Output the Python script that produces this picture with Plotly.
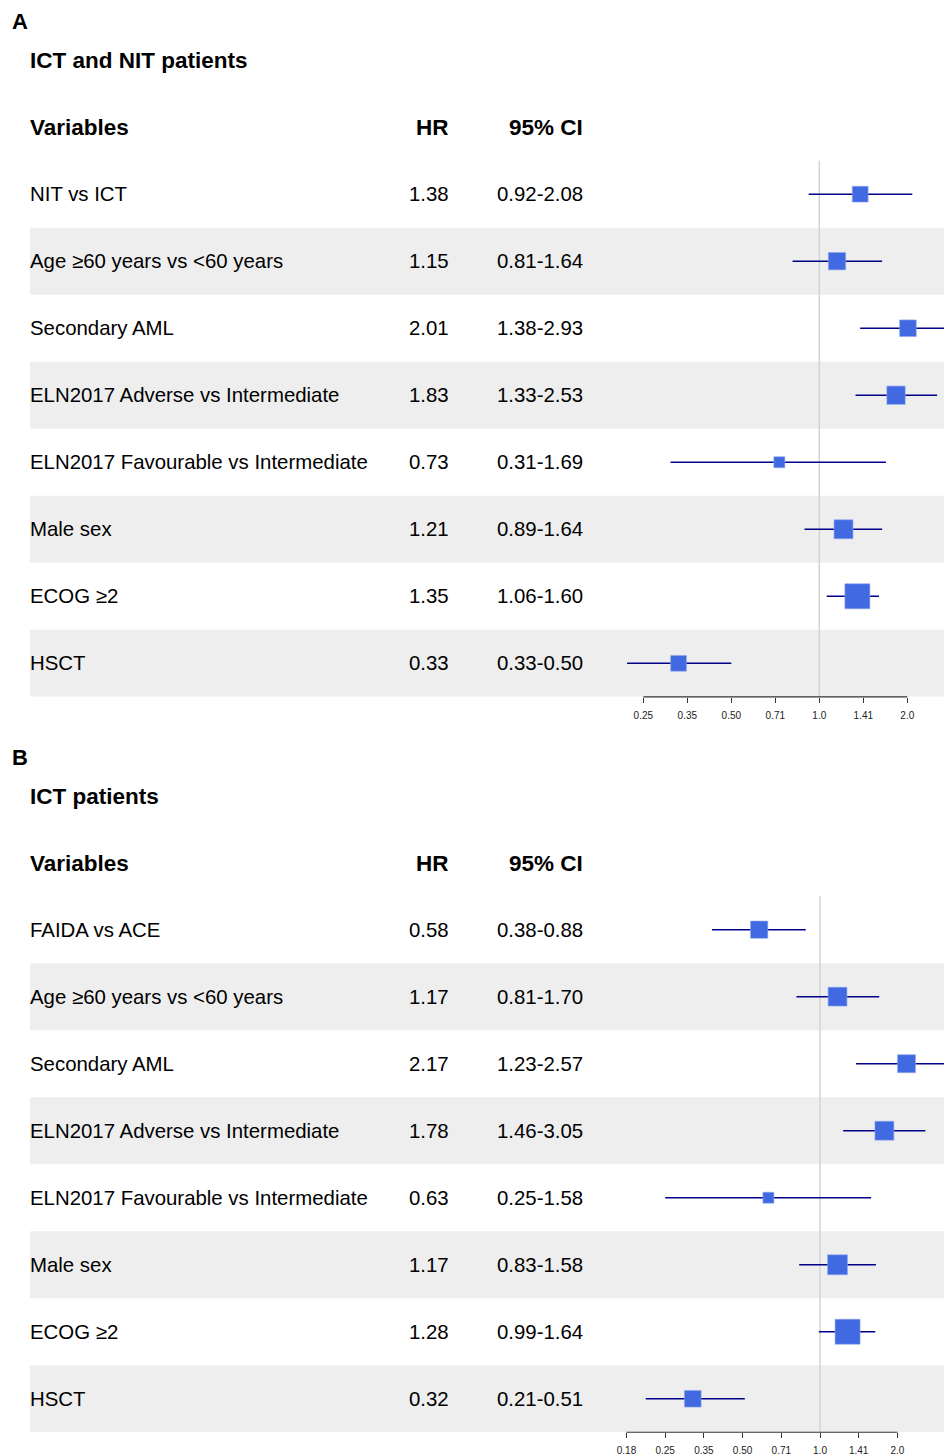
import math
import plotly.graph_objects as go

W, H = 944, 1456
FONT = "Liberation Sans, Arial, Helvetica, sans-serif"

# ---------------- data ----------------
title_a = "ICT and NIT patients"
var_a = ["NIT vs ICT", "Age ≥60 years vs &lt;60 years", "Secondary AML",
         "ELN2017 Adverse vs Intermediate", "ELN2017 Favourable vs Intermediate",
         "Male sex", "ECOG ≥2", "HSCT"]
hr_a = [1.38, 1.15, 2.01, 1.83, 0.73, 1.21, 1.35, 0.33]
lo_a = [0.92, 0.81, 1.38, 1.33, 0.31, 0.89, 1.06, 0.22]
hi_a = [2.08, 1.64, 2.93, 2.53, 1.69, 1.64, 1.60, 0.50]
ci_a = ["0.92-2.08", "0.81-1.64", "1.38-2.93", "1.33-2.53", "0.31-1.69",
        "0.89-1.64", "1.06-1.60", "0.33-0.50"]
tickvals_a = [0.25, 0.3536, 0.5, 0.7071, 1.0, 1.4142, 2.0]
ticktext_a = ["0.25", "0.35", "0.50", "0.71", "1.0", "1.41", "2.0"]

title_b = "ICT patients"
var_b = ["FAIDA vs ACE", "Age ≥60 years vs &lt;60 years", "Secondary AML",
         "ELN2017 Adverse vs Intermediate", "ELN2017 Favourable vs Intermediate",
         "Male sex", "ECOG ≥2", "HSCT"]
hr_b = [0.58, 1.17, 2.17, 1.78, 0.63, 1.17, 1.28, 0.32]
lo_b = [0.38, 0.81, 1.38, 1.23, 0.25, 0.83, 0.99, 0.21]
hi_b = [0.88, 1.70, 3.05, 2.57, 1.58, 1.65, 1.64, 0.51]
ci_b = ["0.38-0.88", "0.81-1.70", "1.23-2.57", "1.46-3.05", "0.25-1.58",
        "0.83-1.58", "0.99-1.64", "0.21-0.51"]
tickvals_b = [0.1768, 0.25, 0.3536, 0.5, 0.7071, 1.0, 1.4142, 2.0]
ticktext_b = ["0.18", "0.25", "0.35", "0.50", "0.71", "1.0", "1.41", "2.0"]

# ---------------- layout geometry (page pixels) ----------------
panels = [
    dict(tag="A", title=title_a, var=var_a, hr=hr_a, lo=lo_a, hi=hi_a, ci=ci_a,
         tv=tickvals_a, tt=ticktext_a, dy=0, one_px=819.3, ppu=88.0, xa="x", ya="y"),
    dict(tag="B", title=title_b, var=var_b, hr=hr_b, lo=lo_b, hi=hi_b, ci=ci_b,
         tv=tickvals_b, tt=ticktext_b, dy=737, one_px=820.0, ppu=77.4, xa="x2", ya="y2"),
]

ROW0 = 194.6
ROWH = 67.15
PLOT_LEFT = 600.0
LOG2 = math.log10(2)
BODY_FS = 20.4
HEAD_FS = 22.5


def py(px):
    return 1 - px / H


def px_x(px):
    return px / W


fig = go.Figure()
shapes = []
annotations = []

for k, p in enumerate(panels):
    n = len(p["var"])
    dy = p["dy"]
    top = ROW0 - ROWH / 2 + dy
    bot = ROW0 + (n - 0.5) * ROWH + dy
    xr = [LOG2 * (PLOT_LEFT - p["one_px"]) / p["ppu"], LOG2 * (W - p["one_px"]) / p["ppu"]]
    sfx = "" if k == 0 else "2"
    rows = list(range(n))

    # box sizes from CI precision
    inv = [1 / (math.log(h) - math.log(l)) for l, h in zip(p["lo"], p["hi"])]
    mn, mx = min(inv), max(inv)
    sizes = [11 + 14 * (v - mn) / (mx - mn) for v in inv]

    # CI lines
    cx, cy = [], []
    for i in rows:
        cx += [p["lo"][i], p["hi"][i], None]
        cy += [i, i, None]
    fig.add_trace(go.Scatter(x=cx, y=cy, mode="lines", line=dict(color="#00008B", width=1.6),
                             xaxis=p["xa"], yaxis=p["ya"], showlegend=False, hoverinfo="skip"))
    fig.add_trace(go.Scatter(x=p["hr"], y=rows, mode="markers",
                             marker=dict(symbol="square", size=sizes, color="#4169E1",
                                         opacity=1, line=dict(width=0.6, color="#8FA8F0")),
                             xaxis=p["xa"], yaxis=p["ya"], showlegend=False))

    fig.layout["xaxis" + sfx] = dict(
        type="log", domain=[px_x(PLOT_LEFT), 1], range=xr, anchor="y" + sfx,
        tickvals=p["tv"], ticktext=p["tt"], ticks="outside", ticklen=5, tickwidth=1,
        tickcolor="#333333", showline=False, showgrid=False, zeroline=False,
        tickfont=dict(size=10, color="#222222", family=FONT), ticklabelstandoff=4,
        fixedrange=True,
    )
    fig.layout["yaxis" + sfx] = dict(
        domain=[py(bot), py(top)], range=[n - 0.5, -0.5], anchor="x" + sfx,
        showticklabels=False, showgrid=False, zeroline=False, showline=False, ticks="",
        fixedrange=True,
    )

    # zebra bands
    for i in rows:
        if i % 2 == 1:
            shapes.append(dict(type="rect", xref="paper", yref=p["ya"],
                               x0=px_x(30), x1=1, y0=i - 0.5, y1=i + 0.5,
                               fillcolor="#EEEEEE", line=dict(width=0), layer="below"))
    # reference line at HR = 1
    shapes.append(dict(type="line", xref=p["xa"], yref=p["ya"] + " domain",
                       x0=1, x1=1, y0=0, y1=1,
                       line=dict(color="#D3D3D3", width=1.5), layer="below"))
    # axis line between first and last tick
    shapes.append(dict(type="line", xref=p["xa"], yref=p["ya"] + " domain",
                       x0=p["tv"][0], x1=p["tv"][-1], y0=0, y1=0,
                       line=dict(color="#333333", width=1.2)))

    # panel tag and title
    annotations.append(dict(text="<b>%s</b>" % p["tag"], xref="paper", yref="paper",
                            x=px_x(10), y=py(22 + dy), xanchor="left", yanchor="middle",
                            showarrow=False, font=dict(size=22, color="black", family=FONT)))
    annotations.append(dict(text="<b>%s</b>" % p["title"], xref="paper", yref="paper",
                            x=px_x(28), y=py(61 + dy), xanchor="left", yanchor="middle",
                            showarrow=False, font=dict(size=HEAD_FS, color="black", family=FONT)))
    # headers
    for txt, xpx, anc in [("Variables", 28, "left"), ("HR", 451, "right"), ("95% CI", 585, "right")]:
        annotations.append(dict(text="<b>%s</b>" % txt, xref="paper", yref="paper",
                                x=px_x(xpx), y=py(128 + dy), xanchor=anc, yanchor="middle",
                                showarrow=False, font=dict(size=HEAD_FS, color="black", family=FONT)))
    # table rows
    for i in rows:
        for txt, xpx, anc in [(p["var"][i], 28, "left"),
                              ("%.2f" % p["hr"][i], 451, "right"),
                              (p["ci"][i], 585, "right")]:
            annotations.append(dict(text=txt, xref="paper", yref=p["ya"],
                                    x=px_x(xpx), y=i, xanchor=anc, yanchor="middle",
                                    showarrow=False,
                                    font=dict(size=BODY_FS, color="black", family=FONT)))

fig.update_layout(
    width=W, height=H, margin=dict(l=0, r=0, t=0, b=0),
    paper_bgcolor="white", plot_bgcolor="rgba(0,0,0,0)",
    shapes=shapes, annotations=annotations, showlegend=False,
    font=dict(family=FONT), hovermode=False,
)

fig.write_html(
    "out.html",
    config={"displayModeBar": False, "staticPlot": True},
    post_script="document.body.style.margin='0';document.body.style.overflow='hidden';",
)
